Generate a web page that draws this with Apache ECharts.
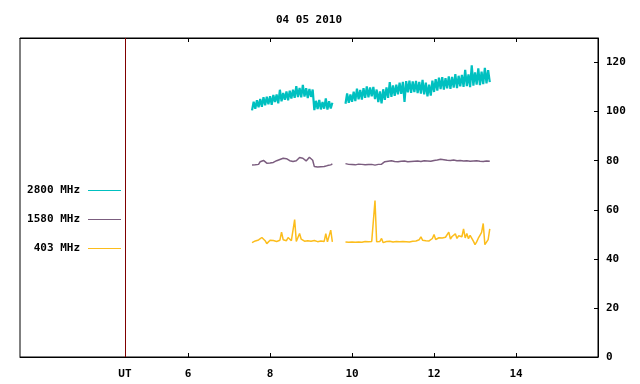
<!DOCTYPE html>
<html lang="en">
<head>
<meta charset="UTF-8">
<title>04 05 2010</title>
<script src="https://cdn.jsdelivr.net/npm/echarts@6/dist/echarts.min.js"></script>
<style>
  html, body { margin: 0; padding: 0; background: #fff; }
  #main { width: 640px; height: 384px; }
</style>
</head>
<body>
<div id="main"></div>
<script>
// sample spacing (hours) and segment start times
var STEP = 0.04;
var seg1Start = 7.56;
var seg2Start = 9.84;
var gapTime = 9.68;

var xTicks = [6, 8, 10, 12, 14];
var utTime = 4.46;
var yTicks = [0, 20, 40, 60, 80, 100, 120];

// 2800 MHz
var f2800a = [100.5, 104.0, 101.2, 104.6, 101.8, 105.2, 102.0, 105.9, 102.6, 106.1,
  103.0, 106.3, 102.8, 106.8, 103.9, 107.0, 103.4, 108.9, 104.2, 107.6,
  104.8, 108.2, 104.6, 108.5, 105.3, 108.9, 105.6, 110.4, 105.9, 109.6,
  105.8, 110.9, 106.1, 109.5, 105.5, 109.2, 106.0, 109.0,
  100.6, 104.4, 101.0, 104.8, 100.9, 103.9, 101.2, 105.4, 100.8, 104.2, 101.3, 103.6];
var f2800b = [103.2, 107.4, 103.6, 107.0, 104.0, 108.1, 104.3, 109.4, 105.0, 108.8,
  104.9, 109.6, 105.6, 110.3, 105.8, 109.9, 106.2, 110.1, 105.1, 109.0,
  103.9, 108.2, 103.4, 109.1, 104.8, 109.9, 105.6, 112.0, 106.0, 110.7,
  106.4, 111.0, 107.0, 111.8, 107.2, 112.1, 104.0, 112.4, 107.9, 112.6,
  107.6, 112.3, 108.0, 112.5, 107.5, 112.1, 107.3, 112.9, 107.0, 111.8,
  106.2, 111.0, 106.5, 112.6, 108.0, 113.2, 108.6, 113.8, 109.2, 114.0,
  109.0, 113.6, 109.5, 114.4, 109.3, 114.1, 109.8, 115.3, 109.6, 114.6,
  110.3, 115.0, 110.1, 117.0, 110.4, 115.2, 110.0, 118.9, 110.6, 116.0,
  111.0, 117.6, 110.8, 116.3, 111.2, 117.8, 111.5, 116.9, 112.0];

// 1580 MHz
var f1580a = [78.2, 78.8, 78.3, 78.9, 78.5, 79.6, 79.2, 80.1, 79.4, 79.0,
  78.6, 79.1, 78.7, 79.3, 79.6, 80.0, 79.8, 80.5, 80.2, 81.0,
  80.4, 80.8, 80.1, 80.0, 79.5, 79.7, 79.2, 80.0, 80.6, 81.3,
  80.9, 81.0, 80.3, 79.9, 80.7, 81.4, 80.8, 80.2, 77.6, 78.1,
  77.4, 77.9, 77.5, 78.0, 77.6, 78.2, 78.0, 78.6, 78.3, 78.7];
var f1580b = [78.8, 78.2, 78.5, 78.9, 78.4, 78.7, 78.3, 78.9, 78.6, 79.0,
  78.5, 78.8, 78.3, 78.7, 78.4, 78.9, 78.5, 78.6, 78.2, 78.8,
  78.5, 79.0, 78.6, 79.2, 79.6, 80.2, 79.8, 80.4, 80.0, 80.3,
  79.7, 80.1, 79.6, 80.0, 79.8, 80.3, 79.9, 80.1, 79.6, 80.0,
  79.7, 80.2, 79.8, 79.5, 79.9, 79.3, 79.7, 79.5, 80.0, 79.6,
  79.9, 79.4, 79.8, 79.5, 80.1, 79.7, 80.3, 79.9, 80.6, 80.0,
  80.4, 79.8, 80.2, 79.7, 80.1, 79.9, 80.3, 79.8, 80.0, 79.6,
  80.1, 79.7, 79.9, 79.5, 80.0, 79.6, 79.8, 79.4, 79.9, 79.6,
  80.0, 79.5, 79.8, 79.4, 79.7, 79.5, 79.9, 79.6, 79.8];

// 403 MHz
var f403a = [46.6, 46.9, 47.3, 47.6, 47.7, 48.0, 48.7, 48.6, 47.4, 46.2,
  46.5, 47.6, 48.1, 47.5, 47.0, 47.1, 46.9, 47.6, 50.9, 47.8,
  47.2, 47.4, 48.7, 48.3, 47.4, 46.8, 56.0, 47.1, 47.4, 50.3,
  48.0, 47.6, 47.2, 47.0, 47.4, 46.9, 47.2, 46.8, 47.5, 46.7,
  47.0, 46.9, 47.3, 46.8, 47.1, 50.3, 46.9, 47.0, 51.7, 46.9];
var f403b = [46.9, 47.0, 46.8, 47.0, 46.9, 47.1, 46.8, 47.0, 46.9, 47.0,
  46.8, 46.9, 47.1, 46.9, 47.0, 46.8, 47.1, 47.0, 63.8, 47.0,
  46.9, 47.1, 48.3, 46.6, 46.9, 47.1, 47.0, 47.2, 47.1, 46.9,
  47.2, 47.1, 47.3, 47.0, 47.2, 47.1, 46.9, 47.0, 47.2, 46.9,
  47.6, 47.2, 47.9, 47.3, 47.5, 47.8, 49.0, 47.6, 47.9, 47.4,
  48.1, 47.3, 47.7, 48.3, 49.9, 47.9, 47.2, 48.6, 47.9, 48.5,
  48.0, 48.8, 48.2, 50.9, 48.1, 49.1, 48.4, 50.2, 48.3, 49.4,
  48.6, 49.0, 52.2, 48.5, 50.3, 48.2, 49.6, 48.8, 47.2, 45.8,
  46.9, 48.4, 49.6, 50.8, 54.4, 45.8, 46.3, 47.8, 52.2];

// two segments joined by a gap
function build(a, b) {
  var out = a.map(function (v, i) { return [+(seg1Start + i * STEP).toFixed(3), v]; });
  out.push([gapTime, null]);
  return out.concat(b.map(function (v, i) { return [+(seg2Start + i * STEP).toFixed(3), v]; }));
}

var FONT = 'DejaVu Sans Mono';
var txt = { color: '#000', fontFamily: FONT, fontSize: 11, fontWeight: 'bold' };

function legendRow(name, top) {
  return {
    data: [name], right: 519, top: top, align: 'right', orient: 'vertical',
    icon: 'rect', itemWidth: 33, itemHeight: 1, padding: 0, selectedMode: false,
    textStyle: Object.assign({ padding: [0, 3, 0, 0] }, txt)
  };
}

var myChart = echarts.init(document.getElementById('main'));
var option = {
  animation: false,
  title: {
    text: '04 05 2010', left: 309, top: 15, textAlign: 'center', padding: 0,
    textStyle: txt
  },
  legend: [legendRow('2800 MHz', 185), legendRow('1580 MHz', 214), legendRow('403 MHz', 243)],
  grid: { left: 20, right: 42, top: 38, bottom: 27, show: true, borderColor: '#000', borderWidth: 1 },
  xAxis: [{
    type: 'value', min: 1.9, max: 16, position: 'bottom',
    axisLine: { show: true, lineStyle: { color: '#000' } },
    axisTick: { show: true, inside: true, length: 4, customValues: xTicks, lineStyle: { color: '#000' } },
    axisLabel: Object.assign({
      margin: 12, customValues: [utTime].concat(xTicks),
      formatter: function (v) { return Math.abs(v - utTime) < 0.01 ? 'UT' : String(v); }
    }, txt),
    splitLine: { show: false }
  }, {
    type: 'value', min: 1.9, max: 16, position: 'top',
    axisLine: { show: true, lineStyle: { color: '#000' } },
    axisTick: { show: true, inside: true, length: 4, customValues: xTicks, lineStyle: { color: '#000' } },
    axisLabel: { show: false },
    splitLine: { show: false }
  }],
  yAxis: {
    type: 'value', position: 'right', min: 0, max: 130, interval: 20,
    axisLine: { show: true, lineStyle: { color: '#000' } },
    axisTick: { show: true, inside: true, length: 4, customValues: yTicks, lineStyle: { color: '#000' } },
    axisLabel: Object.assign({ margin: 8, customValues: yTicks }, txt),
    splitLine: { show: false }
  },
  series: [{
    name: '2800 MHz', type: 'line', data: build(f2800a, f2800b),
    showSymbol: false, color: '#00c0c0', lineStyle: { width: 2.2, color: '#00c0c0' },
    markLine: {
      silent: true, symbol: 'none', label: { show: false },
      lineStyle: { color: '#800000', width: 1, type: 'solid' },
      data: [{ xAxis: utTime }]
    }
  }, {
    name: '1580 MHz', type: 'line', data: build(f1580a, f1580b),
    showSymbol: false, color: '#7b5d7f', lineStyle: { width: 1.5, color: '#7b5d7f' }
  }, {
    name: '403 MHz', type: 'line', data: build(f403a, f403b),
    showSymbol: false, color: '#fcbd1c', lineStyle: { width: 1.5, color: '#fcbd1c' }
  }]
};
myChart.setOption(option);
</script>
</body>
</html>
